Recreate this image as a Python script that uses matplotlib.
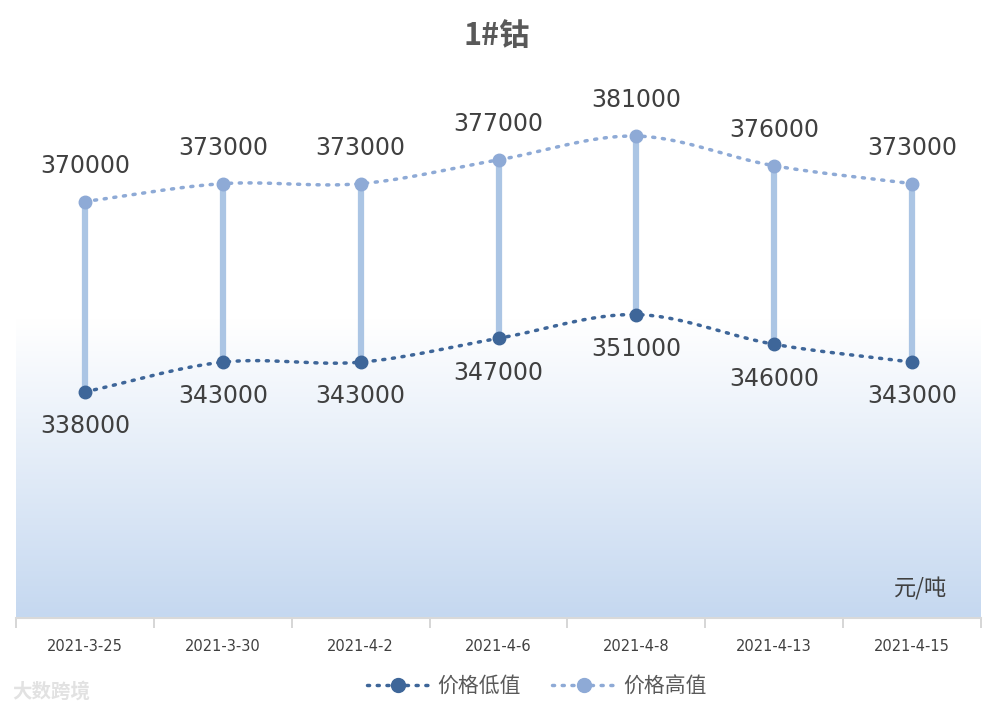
import matplotlib.pyplot as plt
import numpy as np
from matplotlib.colors import LinearSegmentedColormap
from matplotlib.lines import Line2D

plt.rcParams['font.family'] = ['Noto Sans CJK SC', 'DejaVu Sans']

dates = ['2021-3-25', '2021-3-30', '2021-4-2', '2021-4-6', '2021-4-8', '2021-4-13', '2021-4-15']
low = [338000, 343000, 343000, 347000, 351000, 346000, 343000]
high = [370000, 373000, 373000, 377000, 381000, 376000, 373000]

c_low = '#3e6699'
c_high = '#8eaad6'
c_bar = '#abc5e4'
c_text = '#404040'


def smooth(xs, ys, n=30):
    # catmull-rom curve through the points, like Excel's smoothed line
    xs = np.asarray(xs, float)
    ys = np.asarray(ys, float)
    px = np.concatenate(([2 * xs[0] - xs[1]], xs, [2 * xs[-1] - xs[-2]]))
    py = np.concatenate(([2 * ys[0] - ys[1]], ys, [2 * ys[-1] - ys[-2]]))
    ox, oy = [], []
    t = np.linspace(0, 1, n)
    for i in range(1, len(px) - 2):
        for p, o in ((px, ox), (py, oy)):
            p0, p1, p2, p3 = p[i - 1], p[i], p[i + 1], p[i + 2]
            o.extend(0.5 * (2 * p1 + (-p0 + p2) * t + (2 * p0 - 5 * p1 + 4 * p2 - p3) * t ** 2
                            + (-p0 + 3 * p1 - 3 * p2 + p3) * t ** 3))
    return ox, oy


fig = plt.figure(figsize=(9.94, 7.12), dpi=100)
ax = fig.add_axes([16 / 994, 1 - 618 / 712, 965 / 994, 595 / 712])
x = np.arange(len(dates))

# background gradient, white in upper half, light blue at the bottom
grad = LinearSegmentedColormap.from_list('g', [(0, '#ffffff'), (0.5, '#ffffff'), (1, '#c5d8f0')])
ax.imshow(np.linspace(1, 0, 256).reshape(-1, 1), aspect='auto', cmap=grad, origin='lower',
          extent=[-0.5, len(dates) - 0.5, 300000, 400000], zorder=0)
ax.set_xlim(-0.5, len(dates) - 0.5)
ax.set_ylim(300000, 400000)

# high-low lines
ax.vlines(x, low, high, color=c_bar, lw=4.5, zorder=2)

sx, sy = smooth(x, low)
ax.plot(sx, sy, color=c_low, lw=2.5, ls=(0, (0.6, 2.2)), dash_capstyle='round', zorder=3)
ax.plot(x, low, 'o', color=c_low, ms=9, zorder=4)
sx, sy = smooth(x, high)
ax.plot(sx, sy, color=c_high, lw=2.5, ls=(0, (0.6, 2.2)), dash_capstyle='round', zorder=3)
ax.plot(x, high, 'o', color=c_high, ms=9, zorder=4)

for xi, lo, hi in zip(x, low, high):
    ax.annotate(f'{hi}', (xi, hi), xytext=(0, 17), textcoords='offset points',
                ha='center', va='bottom', fontsize=17, color=c_text, family='DejaVu Sans')
    ax.annotate(f'{lo}', (xi, lo), xytext=(0, -16), textcoords='offset points',
                ha='center', va='top', fontsize=17, color=c_text, family='DejaVu Sans')

ax.set_yticks([])
ax.set_xticks(x)
ax.set_xticklabels(dates, fontsize=10.5, color=c_text, family='DejaVu Sans')
ax.set_xticks(np.arange(-0.5, len(dates)), minor=True)
ax.tick_params(axis='x', which='major', length=0, pad=15)
ax.tick_params(axis='x', which='minor', length=7, color='#d0d0d0', width=1.2)
for s in ['top', 'left', 'right']:
    ax.spines[s].set_visible(False)
ax.spines['bottom'].set_color('#d9d9d9')
ax.spines['bottom'].set_linewidth(1.5)

ax.text(0.965, 0.03, '元/吨', transform=ax.transAxes, ha='right', va='bottom',
        fontsize=16, color=c_text)

fig.text(0.5, 1 - 36 / 712, '1#钴', ha='center', va='center', fontsize=22,
         fontweight='bold', color='#595959')

handles = [Line2D([], [], color=c_low, lw=2.5, ls=(0, (0.6, 2.2)), dash_capstyle='round',
                  marker='o', ms=10),
           Line2D([], [], color=c_high, lw=2.5, ls=(0, (0.6, 2.2)), dash_capstyle='round',
                  marker='o', ms=10)]
fig.legend(handles, ['价格低值', '价格高值'], loc='center', bbox_to_anchor=(0.54, 1 - 686 / 712),
           ncol=2, frameon=False, fontsize=15, labelcolor='#595959', handlelength=3,
           columnspacing=1.5, handletextpad=0.4)

fig.text(0.012, 1 - 692 / 712, '大数跨境', fontsize=14, color='#e2e2e2', va='center',
         fontweight='bold')

fig.savefig('out.png', dpi=100)
